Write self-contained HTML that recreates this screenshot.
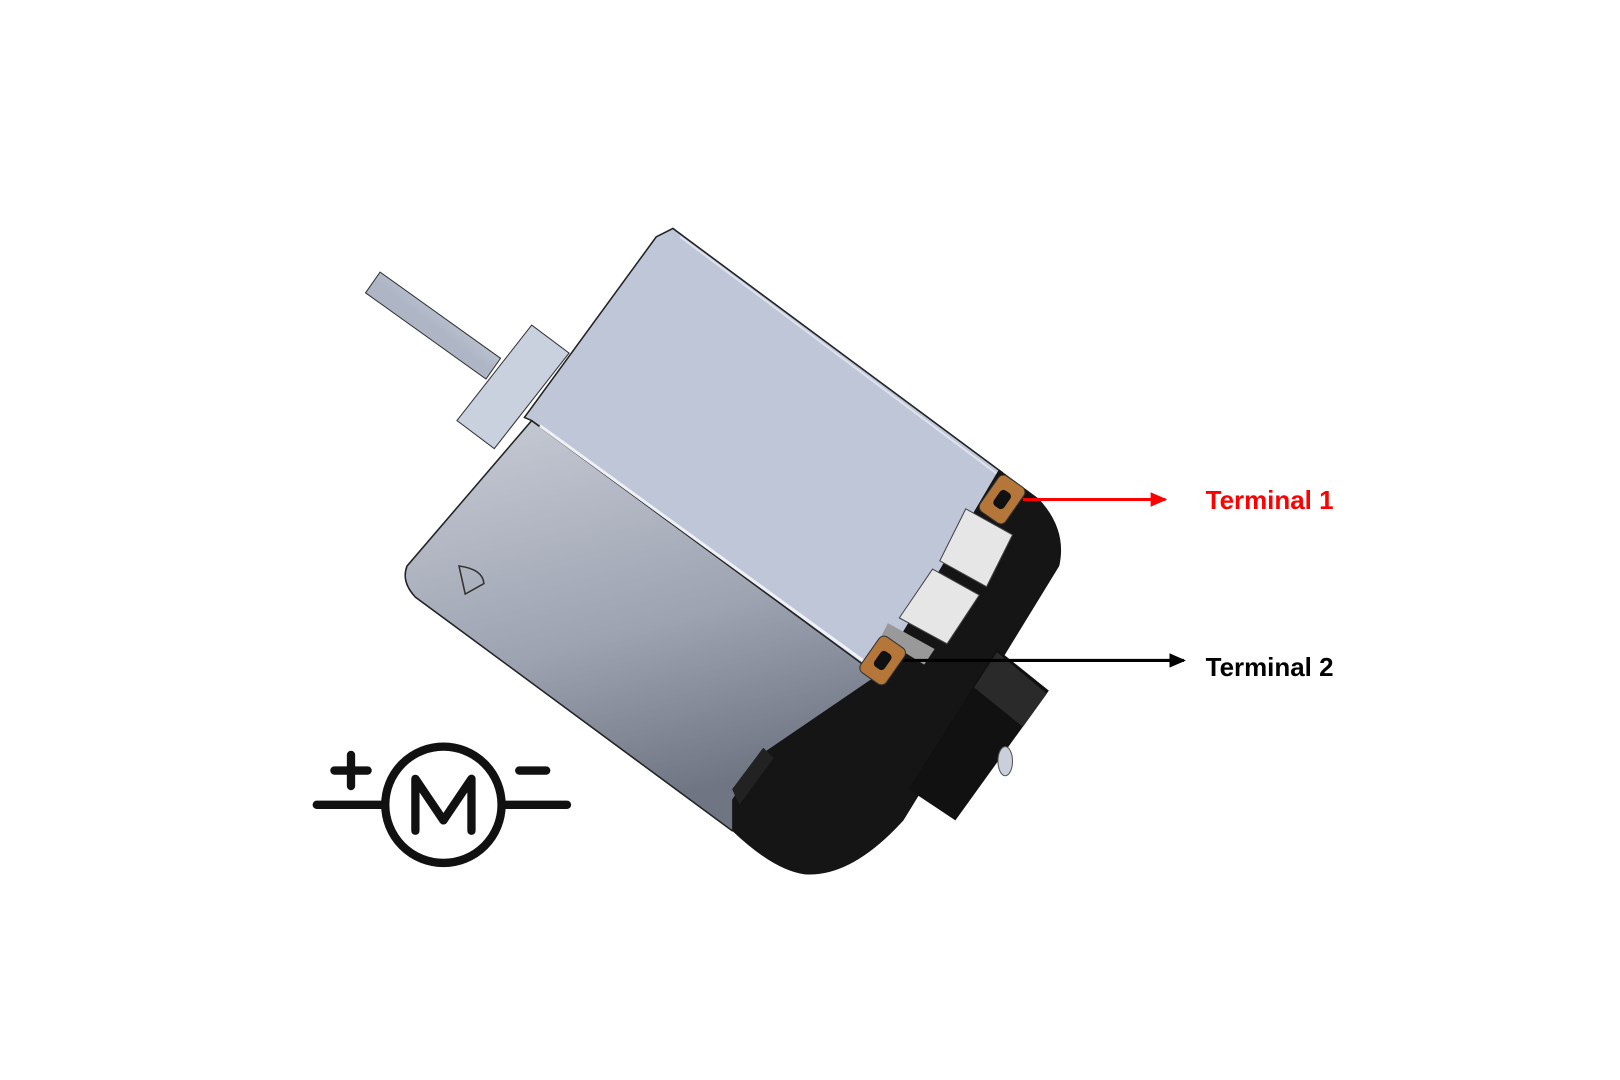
<!DOCTYPE html>
<html><head><style>html,body{margin:0;padding:0;background:#fff}svg{display:block}</style></head>
<body>
<svg width="1620" height="1080" viewBox="0 0 1560 1040" xmlns="http://www.w3.org/2000/svg">
<defs>
<linearGradient id="side" x1="0" y1="0" x2="0.3" y2="1">
<stop offset="0" stop-color="#c8ccd6"/><stop offset="0.6" stop-color="#9da3b1"/><stop offset="1" stop-color="#6f7582"/></linearGradient>
<linearGradient id="shaft" x1="0" y1="0" x2="1" y2="-1">
<stop offset="0" stop-color="#aeb6c6"/><stop offset="0.5" stop-color="#e4e8f0"/><stop offset="1" stop-color="#b8c0cf"/></linearGradient>
<marker id="ar" markerWidth="16" markerHeight="14" refX="14" refY="7" orient="auto" markerUnits="userSpaceOnUse"><path d="M0,0 L16,7 L0,14 z" fill="#ff0000"/></marker>
<marker id="ab" markerWidth="16" markerHeight="14" refX="14" refY="7" orient="auto" markerUnits="userSpaceOnUse"><path d="M0,0 L16,7 L0,14 z" fill="#000"/></marker>
</defs>
<!-- shaft -->
<polygon points="352,282 366,262 482,345 468,365" fill="url(#shaft)" stroke="#333" stroke-width="1"/>
<!-- collar -->
<polygon points="440,405 512,313 548,340 476,432" fill="#c9d0de" stroke="#333" stroke-width="1"/>
<!-- side face -->
<path d="M512,405 L845,650 L705,800 L400,575 Q386,560 392,545 Z" fill="url(#side)" stroke="#222" stroke-width="1.5"/>
<!-- top face -->
<polygon points="632,228 648,220 965,455 845,650 512,405 505,402" fill="#bec6d8" stroke="#222" stroke-width="1.5"/>
<line x1="520" y1="410" x2="850" y2="650" stroke="#eef0f5" stroke-width="3"/>
<line x1="655" y1="228" x2="965" y2="460" stroke="#dde2ec" stroke-width="2"/>
<path d="M442,545 Q465,548 466,562 L448,572 Z" fill="none" stroke="#333" stroke-width="1.5"/>
<!-- black end cap -->
<path d="M962,452 L1000,480 Q1028,510 1020,545 L870,790 Q820,845 775,842 Q745,838 705,800 L705,770 L735,725 L845,650 Z" fill="#151515"/>
<polygon points="960,625 1010,665 920,790 875,760" fill="#111"/>
<polygon points="960,628 1008,668 985,700 938,662" fill="#2a2a2a"/>
<ellipse cx="968" cy="733" rx="7" ry="14" fill="#c9cfdb" stroke="#555"/>
<polygon points="705,760 735,720 745,730 712,775" fill="#222"/>
<!-- white panels -->
<polygon points="930,490 975,515 950,565 905,540" fill="#e6e6e6" stroke="#444"/>
<polygon points="898,548 943,573 912,620 866,595" fill="#e6e6e6" stroke="#444"/>
<polygon points="855,600 900,625 890,640 848,614" fill="#999"/>
<!-- terminals -->
<rect x="950" y="460" width="30" height="42" rx="6" transform="rotate(35 965 481)" fill="#b5763a" stroke="#333"/>
<rect x="959" y="472" width="12" height="18" rx="4" transform="rotate(35 965 481)" fill="#111"/>
<rect x="835" y="615" width="30" height="42" rx="6" transform="rotate(35 850 636)" fill="#b5763a" stroke="#333"/>
<rect x="844" y="627" width="12" height="18" rx="4" transform="rotate(35 850 636)" fill="#111"/>
<!-- arrows -->
<line x1="985" y1="481" x2="1122" y2="481" stroke="#ff0000" stroke-width="3" marker-end="url(#ar)"/>
<line x1="870" y1="636" x2="1140" y2="636" stroke="#000" stroke-width="3" marker-end="url(#ab)"/>
<text x="1161" y="490" font-family="Liberation Sans, sans-serif" font-weight="bold" font-size="25" fill="#ff0000">Terminal 1</text>
<text x="1161" y="651" font-family="Liberation Sans, sans-serif" font-weight="bold" font-size="25" fill="#000">Terminal 2</text>
<!-- motor symbol -->
<g stroke="#111" stroke-width="8" fill="none" stroke-linecap="round" stroke-linejoin="round">
<circle cx="427" cy="775" r="56"/>
<line x1="305" y1="775" x2="370" y2="775"/>
<line x1="484" y1="775" x2="546" y2="775"/>
<line x1="322" y1="742" x2="354" y2="742"/>
<line x1="338" y1="727" x2="338" y2="757"/>
<line x1="500" y1="742" x2="526" y2="742"/>
<polyline points="400,800 400,750 427,790 454,750 454,800"/>
</g>
</svg>
</body></html>
